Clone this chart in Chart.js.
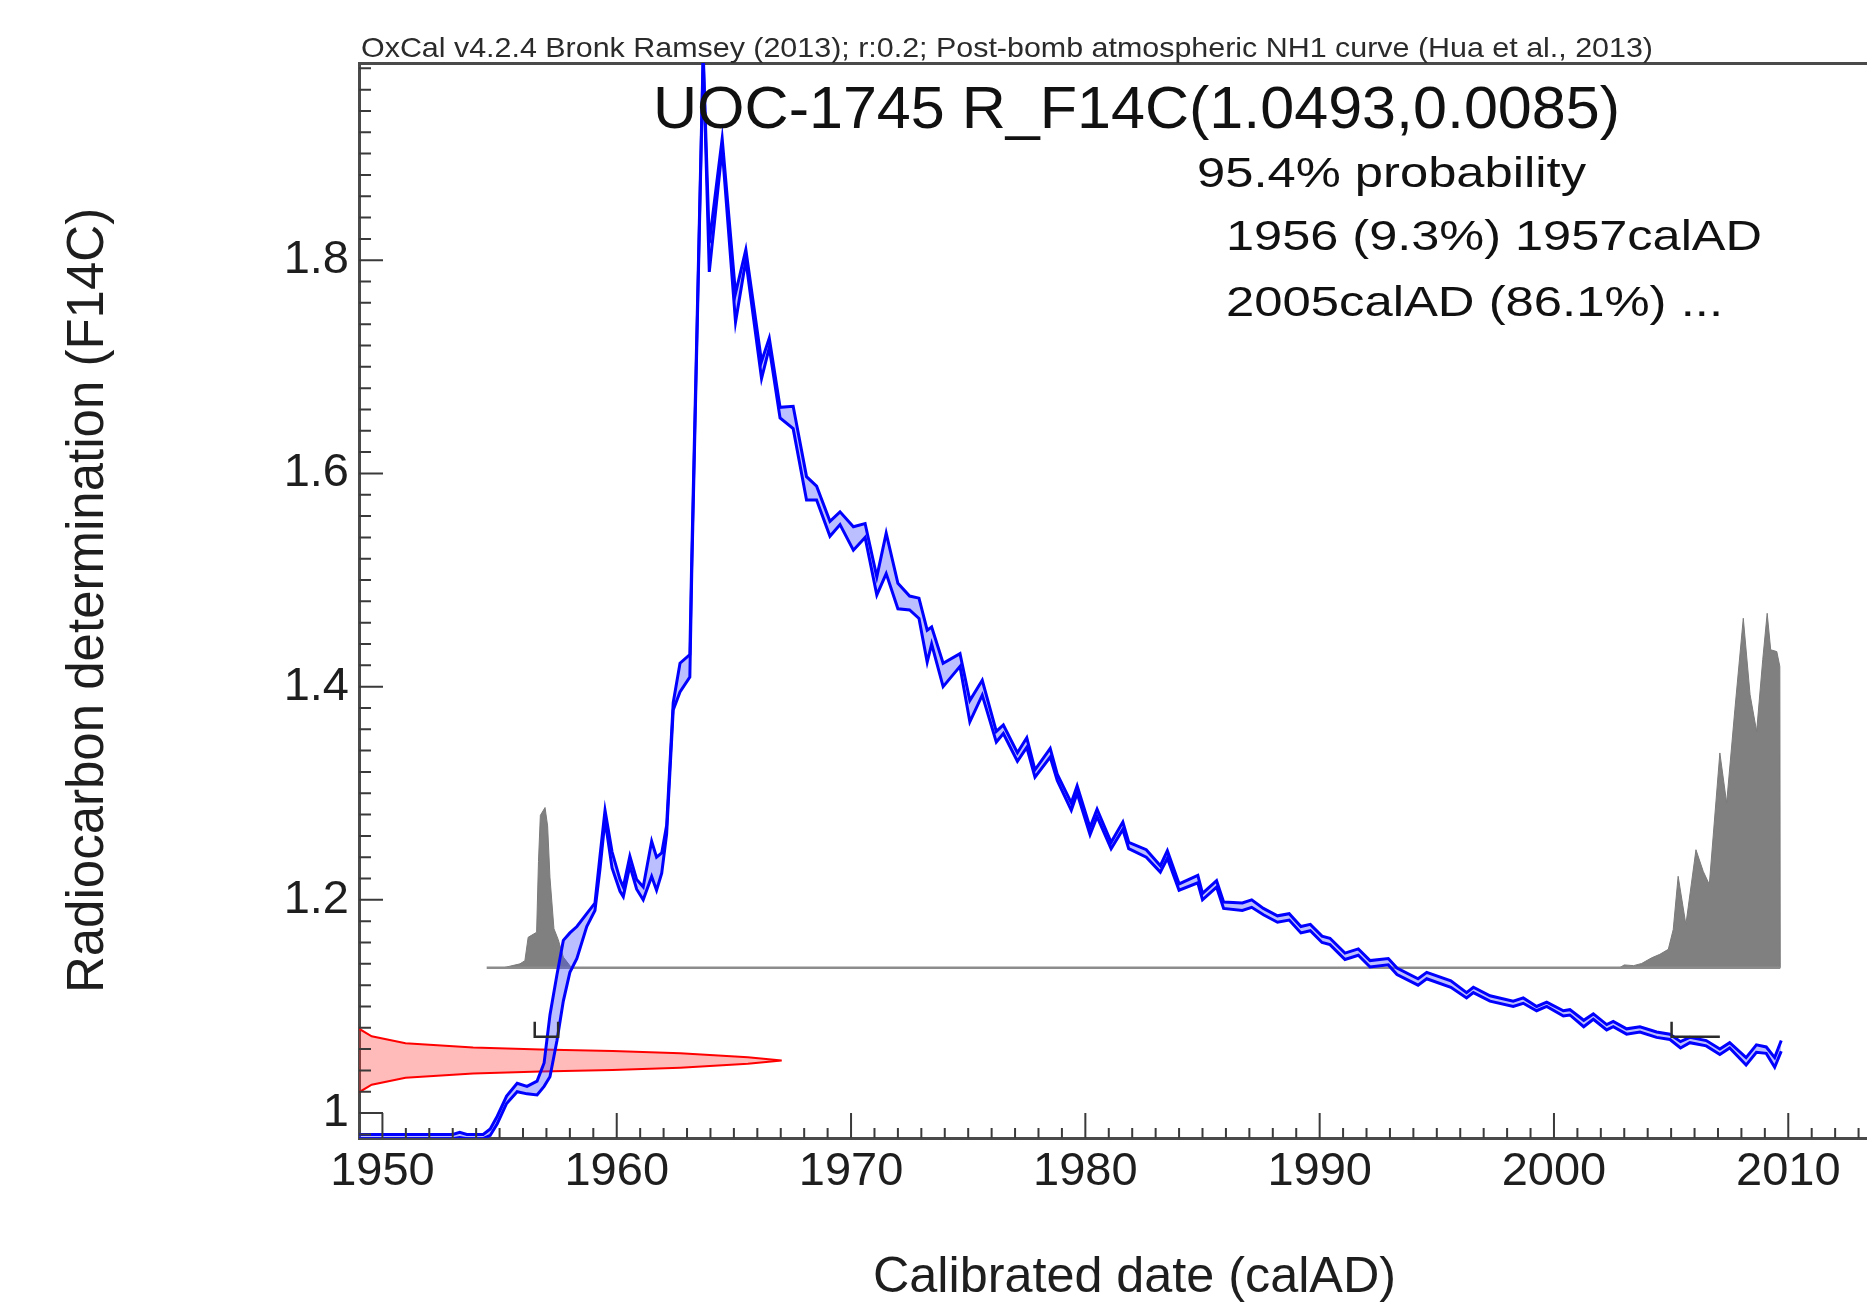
<!DOCTYPE html>
<html>
<head>
<meta charset="utf-8">
<script src="https://cdn.jsdelivr.net/npm/chart.js@4.4.1/dist/chart.umd.min.js"></script>
<style>
  html, body { margin: 0; padding: 0; background: #fff; }
  #wrap { width: 1867px; height: 1305px; }
</style>
</head>
<body>
<div id="wrap"><canvas id="chart" width="1867" height="1305"></canvas></div>
<script>
// calibration curve (NH1 post-bomb), upper / lower edge of the band
var curveYears = [1949.0, 1951.0, 1953.0, 1953.3, 1953.6, 1954.3, 1954.6, 1954.9, 1955.3, 1955.75,
  1956.17, 1956.6, 1956.9, 1957.15, 1957.45, 1957.72, 1958.0, 1958.3, 1958.72, 1959.07,
  1959.28, 1959.5, 1959.8, 1960.14, 1960.28, 1960.56, 1960.85, 1961.13, 1961.49, 1961.7,
  1961.92, 1962.13, 1962.41, 1962.7, 1963.12, 1963.2, 1963.69, 1963.95, 1964.5, 1965.07,
  1965.51, 1966.18, 1966.51, 1966.97, 1967.53, 1968.1, 1968.53, 1969.1, 1969.53, 1970.1,
  1970.6, 1971.1, 1971.5, 1972.0, 1972.5, 1972.9, 1973.25, 1973.44, 1973.93, 1974.65,
  1975.07, 1975.6, 1976.2, 1976.5, 1977.1, 1977.5, 1977.85, 1978.5, 1978.8, 1979.4,
  1979.65, 1980.2, 1980.5, 1981.1, 1981.6, 1981.85, 1982.6, 1983.2, 1983.5, 1984.0,
  1984.8, 1985.0, 1985.6, 1985.9, 1986.7, 1987.1, 1987.6, 1988.2, 1988.7, 1989.2,
  1989.6, 1990.1, 1990.44, 1991.08, 1991.65, 1992.15, 1992.93, 1993.3, 1994.2, 1994.57,
  1995.6, 1996.27, 1996.56, 1997.27, 1998.26, 1998.69, 1999.26, 1999.69, 2000.4, 2000.68,
  2001.27, 2001.68, 2002.25, 2002.53, 2003.1, 2003.67, 2004.38, 2004.95, 2005.4, 2005.8,
  2006.5, 2007.08, 2007.5, 2008.2, 2008.64, 2009.06, 2009.42, 2009.7];
var curveUpper = [0.980, 0.980, 0.980, 0.982, 0.980, 0.980, 0.985, 0.997, 1.016, 1.028,
  1.025, 1.030, 1.047, 1.092, 1.130, 1.162, 1.169, 1.175, 1.187, 1.197,
  1.240, 1.284, 1.245, 1.219, 1.212, 1.241, 1.219, 1.212, 1.255, 1.240,
  1.244, 1.270, 1.385, 1.422, 1.430, 1.520, 1.995, 1.816, 1.914, 1.769,
  1.810, 1.705, 1.727, 1.662, 1.663, 1.597, 1.588, 1.555, 1.564, 1.550,
  1.553, 1.503, 1.544, 1.497, 1.485, 1.483, 1.453, 1.456, 1.422, 1.431,
  1.387, 1.406, 1.358, 1.364, 1.338, 1.352, 1.322, 1.342, 1.318, 1.291,
  1.307, 1.268, 1.285, 1.254, 1.273, 1.254, 1.247, 1.232, 1.246, 1.215,
  1.223, 1.206, 1.218, 1.198, 1.197, 1.200, 1.192, 1.185, 1.187, 1.175,
  1.177, 1.166, 1.164, 1.150, 1.154, 1.143, 1.145, 1.136, 1.126, 1.132,
  1.124, 1.113, 1.118, 1.110, 1.105, 1.108, 1.100, 1.104, 1.096, 1.097,
  1.087, 1.093, 1.083, 1.086, 1.079, 1.081, 1.076, 1.074, 1.067, 1.071,
  1.068, 1.060, 1.066, 1.052, 1.064, 1.062, 1.052, 1.068];
var curveLower = [0.976, 0.976, 0.976, 0.977, 0.976, 0.976, 0.979, 0.990, 1.009, 1.020,
  1.018, 1.017, 1.025, 1.034, 1.068, 1.105, 1.132, 1.145, 1.175, 1.190,
  1.228, 1.275, 1.230, 1.208, 1.203, 1.232, 1.210, 1.200, 1.222, 1.209,
  1.225, 1.262, 1.378, 1.395, 1.409, 1.505, 1.990, 1.789, 1.905, 1.742,
  1.800, 1.689, 1.718, 1.652, 1.642, 1.575, 1.575, 1.541, 1.552, 1.528,
  1.540, 1.486, 1.506, 1.473, 1.472, 1.464, 1.423, 1.440, 1.400, 1.419,
  1.367, 1.392, 1.348, 1.356, 1.330, 1.343, 1.315, 1.334, 1.312, 1.284,
  1.300, 1.261, 1.278, 1.248, 1.266, 1.248, 1.240, 1.226, 1.239, 1.209,
  1.216, 1.200, 1.212, 1.192, 1.190, 1.193, 1.186, 1.179, 1.181, 1.169,
  1.171, 1.160, 1.158, 1.144, 1.148, 1.137, 1.139, 1.130, 1.120, 1.126,
  1.118, 1.108, 1.113, 1.105, 1.100, 1.103, 1.096, 1.100, 1.091, 1.092,
  1.081, 1.088, 1.078, 1.081, 1.074, 1.076, 1.071, 1.069, 1.061, 1.066,
  1.063, 1.055, 1.061, 1.045, 1.057, 1.056, 1.043, 1.058];

// measured value R_F14C(1.0493,0.0085), outline of the red curve
var measF14C = [1.0791, 1.0720, 1.0654, 1.0614, 1.0596, 1.0583, 1.0560, 1.0523, 1.0493,
  1.0463, 1.0426, 1.0403, 1.0390, 1.0372, 1.0332, 1.0266, 1.0195];
var measDensity = [0, 0.03, 0.11, 0.27, 0.43, 0.60, 0.76, 0.92, 1.0,
  0.92, 0.76, 0.60, 0.43, 0.27, 0.11, 0.03, 0];

// calibrated date distribution (grey), two parts
var postYearsA = [1955.16, 1955.87, 1956.08, 1956.22, 1956.58, 1956.66, 1956.74, 1956.94, 1957.05,
  1957.15, 1957.32, 1957.5, 1957.72, 1958.07];
var postProbA = [0, 0.011, 0.02, 0.086, 0.10, 0.30, 0.43, 0.452, 0.40, 0.255, 0.11, 0.08, 0.03, 0];
var postYearsB = [2002.8, 2003.0, 2003.4, 2003.74, 2004.17, 2004.52, 2004.88, 2005.09, 2005.3,
  2005.63, 2006.06, 2006.37, 2006.63, 2007.08, 2007.37, 2007.72, 2008.08, 2008.37, 2008.65,
  2008.91, 2009.1, 2009.25, 2009.51, 2009.64, 2009.66];
var postProbB = [0, 0.008, 0.006, 0.012, 0.028, 0.038, 0.052, 0.108, 0.258, 0.122, 0.333, 0.272,
  0.235, 0.606, 0.465, 0.728, 0.986, 0.770, 0.667, 0.869, 1.0, 0.897, 0.892, 0.85, 0];
var postSpan = [1954.45, 2009.66];

// 95.4% ranges
var rangeStart = [1956.5, 2005.02];
var rangeEnd = [1957.5, 2007.08];
var rangeOpen = [false, true];

var xTickValues = [1950, 1960, 1970, 1980, 1990, 2000, 2010];
var xTickLabels = ['1950', '1960', '1970', '1980', '1990', '2000', '2010'];
var yTickValues = [1, 1.2, 1.4, 1.6, 1.8];
var yTickLabels = ['1', '1.2', '1.4', '1.6', '1.8'];

var headerText = 'OxCal v4.2.4 Bronk Ramsey (2013); r:0.2; Post-bomb atmospheric NH1 curve (Hua et al., 2013)';
var titleText = 'UOC-1745 R_F14C(1.0493,0.0085)';
var probLines = ['95.4% probability', '1956 (9.3%) 1957calAD', '2005calAD (86.1%) ...'];
var xTitle = 'Calibrated date (calAD)';
var yTitle = 'Radiocarbon determination (F14C)';

// layout
var X_MIN = 1949.0, X_MAX = 2013.36;
var Y_MIN = 0.9766, Y_MAX = 1.985;
var GREY_BASE = 1.1363, GREY_PEAK = 1.4688;
var RED_TIP_YEAR = 1967.04;
var RANGE_BAR = 1.0716, RANGE_TICK = 1.0857;
var FONT = '"Liberation Sans", Arial, Helvetica, sans-serif';

function pts(xs, ys) {
  return xs.map(function (x, i) { return { x: x, y: ys[i] }; });
}

var datasets = [];
rangeStart.forEach(function (s, i) {
  var e = rangeEnd[i];
  var d = [{ x: s, y: RANGE_TICK }, { x: s, y: RANGE_BAR }, { x: e, y: RANGE_BAR }];
  if (!rangeOpen[i]) d.push({ x: e, y: RANGE_TICK });
  datasets.push({ data: d, borderColor: '#2a2a2a', borderWidth: 2.5, order: 0 });
});
datasets.push({ data: pts(curveYears, curveLower), borderColor: '#0000ff', borderWidth: 3, order: 1 });
datasets.push({ data: pts(curveYears, curveUpper), borderColor: '#0000ff', borderWidth: 3, order: 1,
  fill: '-1', backgroundColor: 'rgba(60, 70, 255, 0.35)' });
datasets.push({ data: pts(measDensity, measF14C), xAxisID: 'xProb', borderColor: '#ff0000', borderWidth: 2,
  fill: 'shape', backgroundColor: 'rgba(255, 40, 40, 0.32)', order: 2 });
datasets.push({ data: [{ x: postSpan[0], y: 0 }, { x: postSpan[1], y: 0 }], yAxisID: 'yProb',
  borderColor: '#8c8c8c', borderWidth: 2.5, order: 3 });
datasets.push({ data: pts(postYearsA, postProbA), yAxisID: 'yProb', borderColor: '#7a7a7a', borderWidth: 1,
  fill: 'origin', backgroundColor: '#808080', order: 4 });
datasets.push({ data: pts(postYearsB, postProbB), yAxisID: 'yProb', borderColor: '#7a7a7a', borderWidth: 1,
  fill: 'origin', backgroundColor: '#808080', order: 4 });
datasets.forEach(function (d) {
  d.showLine = true; d.pointRadius = 0; d.tension = 0;
  if (d.fill === undefined) d.fill = false;
});

var oxcalPlugin = {
  id: 'oxcal',
  afterDatasetsDraw: function (chart) {
    var ctx = chart.ctx, xs = chart.scales.x, ys = chart.scales.y, a = chart.chartArea;
    ctx.save();
    ctx.strokeStyle = '#3a3a3a';
    ctx.lineWidth = 2;
    ctx.beginPath();
    for (var yr = 1950; yr <= 2013; yr++) {
      var px = xs.getPixelForValue(yr);
      var len = yr % 10 === 0 ? 25 : 10;
      ctx.moveTo(px, a.bottom);
      ctx.lineTo(px, a.bottom - len);
    }
    for (var k = 49; k <= 99; k++) {
      var py = ys.getPixelForValue(k / 50);
      var l2 = k % 10 === 0 ? 24 : 12;
      ctx.moveTo(a.left, py);
      ctx.lineTo(a.left + l2, py);
    }
    ctx.stroke();
    ctx.restore();
  },
  afterDraw: function (chart) {
    var ctx = chart.ctx;
    function fit(text, x, y, w, size, color) {
      ctx.save();
      ctx.font = size + 'px ' + FONT;
      ctx.fillStyle = color;
      ctx.textBaseline = 'alphabetic';
      var m = ctx.measureText(text).width;
      ctx.translate(x, y);
      ctx.scale(w / m, 1);
      ctx.fillText(text, 0, 0);
      ctx.restore();
    }
    fit(headerText, 361, 57, 1292, 28, '#2b2b2b');
    fit(titleText, 653, 128, 967, 60, '#111');
    fit(probLines[0], 1197, 187, 389, 42, '#111');
    fit(probLines[1], 1226, 250, 536, 42, '#111');
    fit(probLines[2], 1226, 316, 497, 42, '#111');
    // x axis title, centred under the full (uncropped) plot width
    fit(xTitle, 873, 1292, 523, 50, '#1e1e1e');
  }
};

new Chart(document.getElementById('chart'), {
  type: 'scatter',
  data: { datasets: datasets },
  plugins: [oxcalPlugin],
  options: {
    responsive: false,
    animation: false,
    devicePixelRatio: 1,
    layout: { padding: { top: 63, right: 0, left: 0, bottom: 0 } },
    plugins: { legend: { display: false }, tooltip: { enabled: false } },
    scales: {
      x: {
        type: 'linear', position: 'bottom', min: X_MIN, max: X_MAX,
        afterFit: function (s) { s.height = 167; },
        afterBuildTicks: function (s) { s.ticks = xTickValues.map(function (v) { return { value: v }; }); },
        ticks: {
          autoSkip: false, maxRotation: 0, padding: 6, color: '#1e1e1e',
          font: { family: FONT, size: 47 },
          callback: function (v, i) { return xTickLabels[i]; }
        },
        grid: { display: false, drawTicks: false },
        border: { display: true, color: '#4a4a4a', width: 3 },
        title: { display: false }
      },
      xTop: {
        type: 'linear', position: 'top', axis: 'x', min: X_MIN, max: X_MAX,
        afterFit: function (s) { s.height = 0; },
        ticks: { display: false },
        grid: { display: false, drawTicks: false },
        border: { display: true, color: '#4a4a4a', width: 3 }
      },
      y: {
        type: 'linear', position: 'left', min: Y_MIN, max: Y_MAX,
        afterFit: function (s) { s.width = 359; },
        afterBuildTicks: function (s) { s.ticks = yTickValues.map(function (v) { return { value: v }; }); },
        ticks: {
          autoSkip: false, padding: 10, color: '#1e1e1e',
          font: { family: FONT, size: 47 },
          callback: function (v, i) { return yTickLabels[i]; }
        },
        grid: { display: false, drawTicks: false },
        border: { display: true, color: '#4a4a4a', width: 3 },
        title: { display: true, text: yTitle, color: '#1e1e1e', font: { family: FONT, size: 51 },
          padding: { top: 58, bottom: 0 } }
      },
      xProb: {
        type: 'linear', axis: 'x', display: false, min: 0,
        max: (X_MAX - X_MIN) / (RED_TIP_YEAR - X_MIN)
      },
      yProb: {
        type: 'linear', axis: 'y', display: false,
        min: (Y_MIN - GREY_BASE) / (GREY_PEAK - GREY_BASE),
        max: (Y_MAX - GREY_BASE) / (GREY_PEAK - GREY_BASE)
      }
    }
  }
});
</script>
</body>
</html>
